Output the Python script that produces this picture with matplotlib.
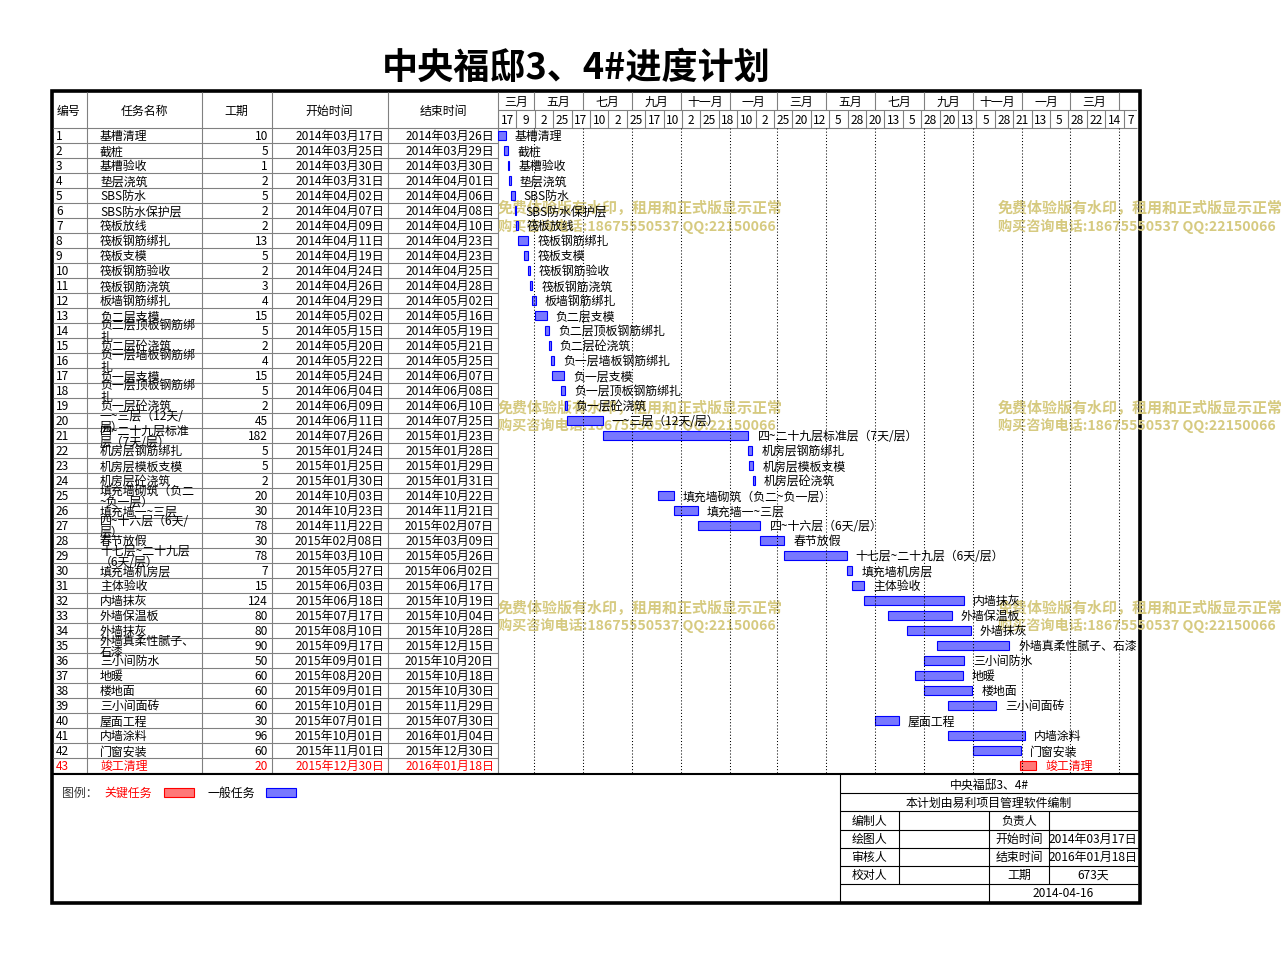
import matplotlib.pyplot as plt
import matplotlib.dates as mdates
from matplotlib.patches import Rectangle
import pandas as pd
import numpy as np

plt.rcParams['font.family'] = ['Noto Sans CJK SC', 'DejaVu Sans']

# ---- data ----
task_names = ['基槽清理', '截桩', '基槽验收', '垫层浇筑', 'SBS防水', 'SBS防水保护层',
              '筏板放线', '筏板钢筋绑扎', '筏板支模', '筏板钢筋验收', '筏板钢筋浇筑',
              '板墙钢筋绑扎', '负二层支模', '负二层顶板钢筋绑扎', '负二层砼浇筑',
              '负一层墙板钢筋绑扎', '负一层支模', '负一层顶板钢筋绑扎', '负一层砼浇筑',
              '一~三层（12天/层）', '四~二十九层标准层（7天/层）', '机房层钢筋绑扎',
              '机房层模板支模', '机房层砼浇筑', '填充墙砌筑（负二~负一层）', '填充墙一~三层',
              '四~十六层（6天/层）', '春节放假', '十七层~二十九层（6天/层）', '填充墙机房层',
              '主体验收', '内墙抹灰', '外墙保温板', '外墙抹灰', '外墙真柔性腻子、石漆',
              '三小间防水', '地暖', '楼地面', '三小间面砖', '屋面工程', '内墙涂料',
              '门窗安装', '竣工清理']
durations = [10, 5, 1, 2, 5, 2, 2, 13, 5, 2, 3, 4, 15, 5, 2, 4, 15, 5, 2, 45, 182,
             5, 5, 2, 20, 30, 78, 30, 78, 7, 15, 124, 80, 80, 90, 50, 60, 60, 60, 30,
             96, 60, 20]
start_dates = ['2014-03-17', '2014-03-25', '2014-03-30', '2014-03-31', '2014-04-02',
               '2014-04-07', '2014-04-09', '2014-04-11', '2014-04-19', '2014-04-24',
               '2014-04-26', '2014-04-29', '2014-05-02', '2014-05-15', '2014-05-20',
               '2014-05-22', '2014-05-24', '2014-06-04', '2014-06-09', '2014-06-11',
               '2014-07-26', '2015-01-24', '2015-01-25', '2015-01-30', '2014-10-03',
               '2014-10-23', '2014-11-22', '2015-02-08', '2015-03-10', '2015-05-27',
               '2015-06-03', '2015-06-18', '2015-07-17', '2015-08-10', '2015-09-17',
               '2015-09-01', '2015-08-20', '2015-09-01', '2015-10-01', '2015-07-01',
               '2015-10-01', '2015-11-01', '2015-12-30']
end_dates = ['2014-03-26', '2014-03-29', '2014-03-30', '2014-04-01', '2014-04-06',
             '2014-04-08', '2014-04-10', '2014-04-23', '2014-04-23', '2014-04-25',
             '2014-04-28', '2014-05-02', '2014-05-16', '2014-05-19', '2014-05-21',
             '2014-05-25', '2014-06-07', '2014-06-08', '2014-06-10', '2014-07-25',
             '2015-01-23', '2015-01-28', '2015-01-29', '2015-01-31', '2014-10-22',
             '2014-11-21', '2015-02-07', '2015-03-09', '2015-05-26', '2015-06-02',
             '2015-06-17', '2015-10-19', '2015-10-04', '2015-10-28', '2015-12-15',
             '2015-10-20', '2015-10-18', '2015-10-30', '2015-11-29', '2015-07-30',
             '2016-01-04', '2015-12-30', '2016-01-18']
key_tasks = [43]

month_labels = ['三月', '五月', '七月', '九月', '十一月', '一月', '三月',
                '五月', '七月', '九月', '十一月', '一月', '三月']
headers = ['编号', '任务名称', '工期', '开始时间', '结束时间']

title = '中央福邸3、4#进度计划'
project = '中央福邸3、4#'
made_by = '本计划由易利项目管理软件编制'
left_labels = ['编制人', '绘图人', '审核人', '校对人']
right_labels = ['负责人', '开始时间', '结束时间', '工期']
right_values = ['', '2014年03月17日', '2016年01月18日', '673天']
print_date = '2014-04-16'
watermark = ['免费体验版有水印，租用和正式版显示正常', '购买咨询电话:18675550537 QQ:22150066']

# ---- layout ----
W, H = 1282, 954
fs = 8.6
grey = '#808080'
blue_fill, blue_edge = '#7878ff', '#0000ff'
red_fill, red_edge = '#ff7878', '#ff0000'
wm_color = '#d6ca80'
row_top, row_h = 129.3, 15
gantt_left, gantt_right = 498, 1137
px_per_day = 0.8
n = len(task_names)
row_bottom = row_top + n * row_h


def frac(x0, y0, x1, y1):
    return [x0 / W, 1 - y1 / H, (x1 - x0) / W, (y1 - y0) / H]


def fmt_cn(d):
    return pd.Timestamp(d).strftime('%Y年%m月%d日')


def wrap_cell(s, limit=8):
    # the name column wraps after about 8 full-width characters
    lines, cur, w = [], '', 0
    for ch in s:
        cw = 0.5 if (ord(ch) < 128 and ch != '~') else 1
        if w + cw > limit:
            lines.append(cur)
            cur, w = '', 0
        cur += ch
        w += cw
    lines.append(cur)
    return '\n'.join(lines)


fig = plt.figure(figsize=(W / 100, H / 100), dpi=100)
ax = fig.add_axes([0, 0, 1, 1])
ax.set_xlim(0, W)
ax.set_ylim(H, 0)
ax.axis('off')

ax.text(576, 68, title, fontsize=26, ha='center', va='center', weight='bold')

# watermark (sits under the gantt content)
for y0 in (208, 408, 608):
    for x0 in (498, 998):
        ax.text(x0, y0, watermark[0], fontsize=10.8, color=wm_color,
                weight='bold', va='center', ha='left')
        ax.text(x0, y0 + 18, watermark[1], fontsize=10.2, color=wm_color,
                weight='bold', va='center', ha='left')

# table grid
col_x = [87, 202, 272, 388, 498]
ax.vlines(col_x, 93, row_bottom, color=grey, lw=0.8)
ax.hlines(row_top + np.arange(n + 1) * row_h, 53, gantt_left, color=grey, lw=0.8)
ax.hlines(row_top, gantt_left, gantt_right, color=grey, lw=0.8)

hy = 111.5
ax.text(57, hy, headers[0], fontsize=fs, va='center', ha='left')
for cx, h in zip([144, 236, 329, 443], headers[1:]):
    ax.text(cx, hy, h, fontsize=fs, va='center', ha='center')

for i, name in enumerate(task_names):
    y = row_top + row_h * i + row_h / 2
    c = red_edge if (i + 1) in key_tasks else 'black'
    ax.text(56, y, str(i + 1), fontsize=fs, va='center', ha='left', color=c)
    ax.text(100, y, wrap_cell(name), fontsize=fs, va='center', ha='left',
            color=c, linespacing=0.8)
    ax.text(268, y, str(durations[i]), fontsize=fs, va='center', ha='right', color=c)
    ax.text(384, y, fmt_cn(start_dates[i]), fontsize=fs, va='center', ha='right', color=c)
    ax.text(494, y, fmt_cn(end_dates[i]), fontsize=fs, va='center', ha='right', color=c)

# separator under the table and outer frame
ax.hlines(775, 52, 1139, color='black', lw=1.5)
ax.add_patch(Rectangle((51.5, 91.7), 1139.5 - 51.5, 904.5 - 91.7, fill=False,
                       ec='black', lw=2.6))

# legend
ax.text(62, 793, '图例：', fontsize=fs, va='center', ha='left', color='#333333')
ax.text(104, 793, '关键任务', fontsize=fs, va='center', ha='left', color=red_edge)
ax.add_patch(Rectangle((164, 789), 30, 9, fc=red_fill, ec=red_edge, lw=0.8))
ax.text(207, 793, '一般任务', fontsize=fs, va='center', ha='left')
ax.add_patch(Rectangle((266, 789), 30, 9, fc=blue_fill, ec=blue_edge, lw=0.8))

# info box
info_rows = [794, 812, 830.5, 848.5, 866.5, 884.5]
ax.hlines(info_rows, 840, 1138, color='black', lw=0.8)
ax.vlines(840, 775, 904, color='black', lw=0.8)
ax.vlines([899, 1049], 812, 884.5, color='black', lw=0.8)
ax.vlines(989, 812, 904, color='black', lw=0.8)
ax.text(989, 785, project, fontsize=fs, ha='center', va='center')
ax.text(989, 803, made_by, fontsize=fs, ha='center', va='center')
for k in range(4):
    y = (info_rows[k + 1] + info_rows[k + 2]) / 2
    ax.text(869, y, left_labels[k], fontsize=fs, ha='center', va='center')
    ax.text(1019, y, right_labels[k], fontsize=fs, ha='center', va='center')
    ax.text(1093, y, right_values[k], fontsize=fs, ha='center', va='center')
ax.text(1063, 894, print_date, fontsize=fs, ha='center', va='center')

# ---- gantt ----
starts = pd.to_datetime(start_dates)
ends = pd.to_datetime(end_dates)
t0 = mdates.date2num(starts.min())
t1 = t0 + (gantt_right - gantt_left) / px_per_day
left = mdates.date2num(starts)
width = (ends - starts).days.values + 1
ypos = np.arange(n) + 0.5

gx = fig.add_axes(frac(gantt_left, row_top, gantt_right, row_bottom))
gx.set_xlim(t0, t1)
gx.set_ylim(n, 0)
gx.axis('off')

month_bounds = mdates.date2num(pd.date_range('2014-05-01', '2016-05-01', freq='2MS'))
gx.vlines(month_bounds, 0, n, color='black', lw=0.75, linestyles=(0, (1, 2)))

is_key = np.array([(i + 1) in key_tasks for i in range(n)])
gx.barh(ypos[~is_key], width[~is_key], left=left[~is_key], height=0.62,
        color=blue_fill, edgecolor=blue_edge, linewidth=0.8)
gx.barh(ypos[is_key], width[is_key], left=left[is_key], height=0.62,
        color=red_fill, edgecolor=red_edge, linewidth=0.8)
for i, name in enumerate(task_names):
    gx.annotate(name, xy=(left[i] + width[i], ypos[i]), xytext=(6.5, 0),
                textcoords='offset points', va='center', ha='left', fontsize=fs,
                color=red_edge if is_key[i] else 'black', annotation_clip=False)

# time header
hx = fig.add_axes(frac(gantt_left, 93, gantt_right, row_top), sharex=gx)
hx.set_ylim(2, 0)
hx.axis('off')
hx.hlines(1, t0, t1, color=grey, lw=0.8)
hx.vlines(month_bounds, 0, 1, color=grey, lw=0.8)
cell_edges = np.concatenate([[t0], month_bounds, [t1]])
for k, lab in enumerate(month_labels):
    hx.text((cell_edges[k] + cell_edges[k + 1]) / 2, 0.5, lab, fontsize=fs,
            ha='center', va='center')

day_ticks = mdates.date2num(pd.date_range(starts.min(), periods=35, freq='23D'))
hx.vlines(day_ticks, 1, 2, color=grey, lw=0.8)
for d in day_ticks:
    xc = min(d + 11.5, (d + t1) / 2)
    hx.text(xc, 1.5, str(mdates.num2date(d).day), fontsize=fs, ha='center', va='center')

fig.savefig('out.png', dpi=100)
